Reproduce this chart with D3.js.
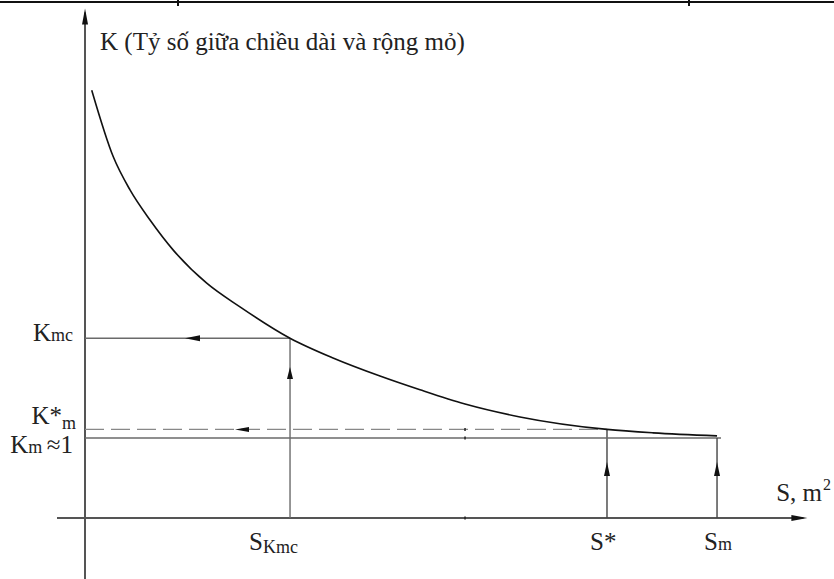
<!DOCTYPE html>
<html><head>
<meta charset="utf-8">
<title>K theo S</title>
<script src="https://d3js.org/d3.v7.min.js"></script>
<style>
  body { margin: 0; background: #fff; }
  text { font-family: "Liberation Serif", "DejaVu Serif", serif; fill: #222; }
</style>
</head>
<body>
<div id="chart"></div>
<script>

// curve K(S)
var curveS = [0.96, 4.04, 6.43, 9.29, 12.61, 17.39, 22.14, 29.29, 35.43, 42.14, 47.86, 54.29, 62.14, 74.57, 81.14, 90.29];
var curveK = [9.95, 8.40, 7.63, 6.93, 6.23, 5.46, 4.91, 4.18, 3.72, 3.30, 2.98, 2.65, 2.35, 2.06, 1.98, 1.91];

// key points
var sKmc = 29.29, sStar = 74.57, sM = 90.29;
var kMc = 4.18, kStarM = 2.06, kM = 1.86;
var sMid = 54.29;

// extent of the drawn axes (data units)
var xAxisExtent = [-4, 103.2];
var yAxisExtent = [-1.45, 11.85];

var width = 834, height = 579;

var svg = d3.select("#chart")
  .append("svg")
    .attr("width", width)
    .attr("height", height);

var x = d3.scaleLinear().domain([0, 100]).range([85, 785]);
var y = d3.scaleLinear().domain([0, 10]).range([518, 88]);

// top border of the table cell
svg.append("line")
  .attr("x1", 0).attr("x2", width)
  .attr("y1", 2).attr("y2", 2)
  .attr("stroke", "#111").attr("stroke-width", 2);
[178, 689].forEach(function(px) {
  svg.append("line")
    .attr("x1", px).attr("x2", px)
    .attr("y1", 0).attr("y2", 6)
    .attr("stroke", "#111").attr("stroke-width", 2);
});

function arrow(px, py, dir, len, half) {
  // dir: "up" or "left" or "right"
  var pts;
  if (dir == "up") pts = [[px, py], [px - half, py + len], [px + half, py + len]];
  else if (dir == "left") pts = [[px, py], [px + len, py - half], [px + len, py + half]];
  else pts = [[px, py], [px - len, py - half], [px - len, py + half]];
  svg.append("path")
    .attr("d", "M" + pts.join("L") + "Z")
    .attr("fill", "#111");
}

var gray = "#6a6a6a";

// axes
svg.append("line")
  .attr("x1", x(0)).attr("x2", x(0))
  .attr("y1", y(yAxisExtent[0])).attr("y2", y(yAxisExtent[1]) + 4)
  .attr("stroke", "#555").attr("stroke-width", 2);
arrow(x(0), y(yAxisExtent[1]), "up", 16, 3);

svg.append("line")
  .attr("x1", x(xAxisExtent[0])).attr("x2", x(xAxisExtent[1]) - 4)
  .attr("y1", y(0)).attr("y2", y(0))
  .attr("stroke", "#555").attr("stroke-width", 2);
arrow(x(xAxisExtent[1]), y(0), "right", 16, 3);

// Kmc projection
svg.append("line")
  .attr("x1", x(0)).attr("x2", x(sKmc))
  .attr("y1", y(kMc)).attr("y2", y(kMc))
  .attr("stroke", gray).attr("stroke-width", 1.6);
arrow(185, y(kMc), "left", 15, 3);
svg.append("line")
  .attr("x1", x(sKmc)).attr("x2", x(sKmc))
  .attr("y1", y(0)).attr("y2", y(kMc))
  .attr("stroke", gray).attr("stroke-width", 1.4);
arrow(x(sKmc), 367, "up", 12, 3);

// K*m dashed
svg.append("line")
  .attr("x1", x(0)).attr("x2", x(sStar))
  .attr("y1", y(kStarM)).attr("y2", y(kStarM))
  .attr("stroke", "#888").attr("stroke-width", 1.2)
  .attr("stroke-dasharray", "19,7");
arrow(235, y(kStarM), "left", 14, 2.5);
svg.append("line")
  .attr("x1", x(sStar)).attr("x2", x(sStar))
  .attr("y1", y(0)).attr("y2", y(kStarM))
  .attr("stroke", "#444").attr("stroke-width", 1.4);
arrow(x(sStar), 462, "up", 14, 3);

// Km line
svg.append("line")
  .attr("x1", x(0)).attr("x2", x(sM) + 4)
  .attr("y1", y(kM)).attr("y2", y(kM))
  .attr("stroke", gray).attr("stroke-width", 1.6);
svg.append("line")
  .attr("x1", x(sM)).attr("x2", x(sM))
  .attr("y1", y(0)).attr("y2", y(kM))
  .attr("stroke", "#444").attr("stroke-width", 1.4);
arrow(x(sM), 462, "up", 14, 3);

// small ticks at the middle
[0, kM, kStarM].forEach(function(k) {
  svg.append("line")
    .attr("x1", x(sMid)).attr("x2", x(sMid))
    .attr("y1", y(k) - 1.5).attr("y2", y(k) + 1.5)
    .attr("stroke", "#222").attr("stroke-width", 1.5);
});

// the curve
var pts = curveS.map(function(s, i) { return [s, curveK[i]]; });
svg.append("path")
  .datum(pts)
  .attr("fill", "none")
  .attr("stroke", "#111")
  .attr("stroke-width", 1.6)
  .attr("d", d3.line()
    .x(function(d) { return x(d[0]); })
    .y(function(d) { return y(d[1]); })
    .curve(d3.curveMonotoneX));

// labels
svg.append("text")
  .attr("x", 100).attr("y", 50)
  .style("font-size", "25px")
  .text("K (Tỷ số giữa chiều dài và rộng mỏ)");

var t = svg.append("text").attr("x", 822).attr("y", 501).attr("text-anchor", "end").style("font-size", "25px");
t.append("tspan").text("S, m");
svg.append("text").attr("x", 823).attr("y", 490).style("font-size", "16px").text("2");

function kLabel(xr, yb, sub, subDy, tail) {
  var tx = svg.append("text").attr("x", xr).attr("y", yb).attr("text-anchor", "end").style("font-size", "25px");
  tx.append("tspan").text(sub[0]);
  tx.append("tspan").style("font-size", "18px").attr("dy", subDy).text(sub[1]);
  if (tail) tx.append("tspan").attr("dy", -subDy).text(tail);
}
kLabel(73, 341, ["K", "mc"], 0, null);
kLabel(76, 424, ["K*", "m"], 5, null);
kLabel(73, 453, ["K", "m "], 0, "≈1");

// bottom labels
var b1 = svg.append("text").attr("x", 249).attr("y", 550).style("font-size", "25px");
b1.append("tspan").text("S");
b1.append("tspan").style("font-size", "18px").attr("dy", 3).text("Kmc");
svg.append("text").attr("x", 590).attr("y", 550).style("font-size", "25px").text("S*");
var b3 = svg.append("text").attr("x", 704).attr("y", 550).style("font-size", "25px");
b3.append("tspan").text("S");
b3.append("tspan").style("font-size", "18px").text("m");

</script>
</body></html>
